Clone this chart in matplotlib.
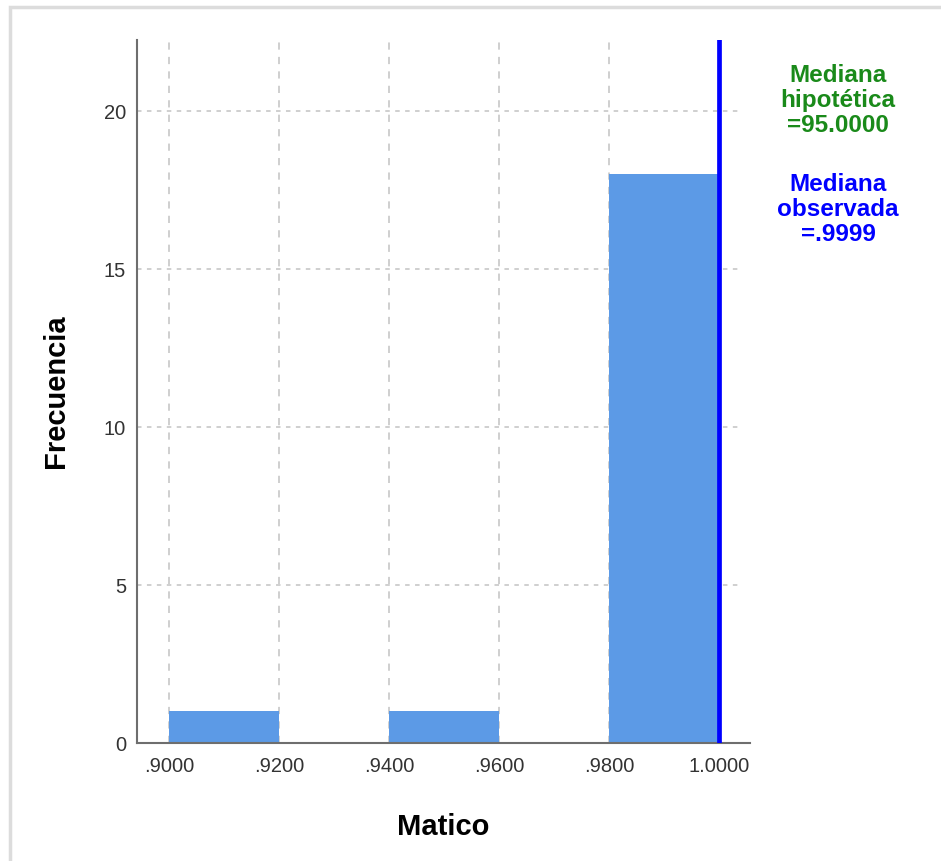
import matplotlib
matplotlib.use("Agg")
import numpy as np
import matplotlib.pyplot as plt
from matplotlib.patches import Rectangle

# histogram of Matico (bin edges and counts)
bin_edges = [0.90, 0.92, 0.94, 0.96, 0.98, 1.00]
counts = [1, 0, 1, 0, 18]
observed_median = 0.9999
hyp_label = "Mediana\nhipotética\n=95.0000"
obs_label = "Mediana\nobservada\n=.9999"
x_ticks = [0.90, 0.92, 0.94, 0.96, 0.98, 1.00]
x_tick_labels = [".9000", ".9200", ".9400", ".9600", ".9800", "1.0000"]
y_ticks = [0, 5, 10, 15, 20]

plt.rcParams['font.family'] = ['Liberation Sans', 'DejaVu Sans']

fig = plt.figure(figsize=(9.41, 8.61), dpi=100)
ax = fig.add_axes([0.1456, 0.137, 0.6514, 0.8165])

# light frame around the whole picture
fig.patches.append(Rectangle((0.011, -0.01), 1.2, 1.0015, transform=fig.transFigure,
                             fill=False, edgecolor='#dcdcdc', linewidth=2.5))

ax.bar(bin_edges[:-1], counts, width=np.diff(bin_edges), align='edge',
       color='#5c9ae6', edgecolor='none', zorder=2)
ax.axvline(observed_median, color='#0000ff', linewidth=3.4, zorder=3)

ax.set_xlim(0.8942, 1.0056)
ax.set_ylim(0, 22.25)
ax.set_xticks(x_ticks)
ax.set_xticklabels(x_tick_labels)
ax.set_yticks(y_ticks)

# grid: dashed verticals, dotted horizontals
for xv in x_ticks[:-1]:
    ax.axvline(xv, color='#cccccc', linewidth=1.3, linestyle=(0, (4, 4)), zorder=1)
for yv in y_ticks[1:]:
    ax.axhline(yv, xmin=0.0, xmax=0.985, color='#cccccc', linewidth=1.3,
               linestyle=(0, (2.5, 3)), zorder=1)

for side in ['top', 'right']:
    ax.spines[side].set_visible(False)
for side in ['left', 'bottom']:
    ax.spines[side].set_color('#6e6e6e')
    ax.spines[side].set_linewidth(1.5)

ax.tick_params(axis='both', length=0, labelsize=14.5, labelcolor='#333333')
ax.tick_params(axis='x', pad=10)
ax.tick_params(axis='y', pad=8)

ax.set_xlabel("Matico", fontsize=21, fontweight='bold', va='center')
ax.xaxis.set_label_coords(0.5, -0.1195)
ax.set_ylabel("Frecuencia", fontsize=21, fontweight='bold', va='center')
ax.yaxis.set_label_coords(-0.132, 0.5)

fig.text(0.8905, 0.883, hyp_label, color='#1a8a1a', fontsize=17.5, fontweight='bold',
         ha='center', va='center', linespacing=1.12)
fig.text(0.8905, 0.757, obs_label, color='#0000ff', fontsize=17.5, fontweight='bold',
         ha='center', va='center', linespacing=1.12)

fig.savefig("out.png", dpi=100)
